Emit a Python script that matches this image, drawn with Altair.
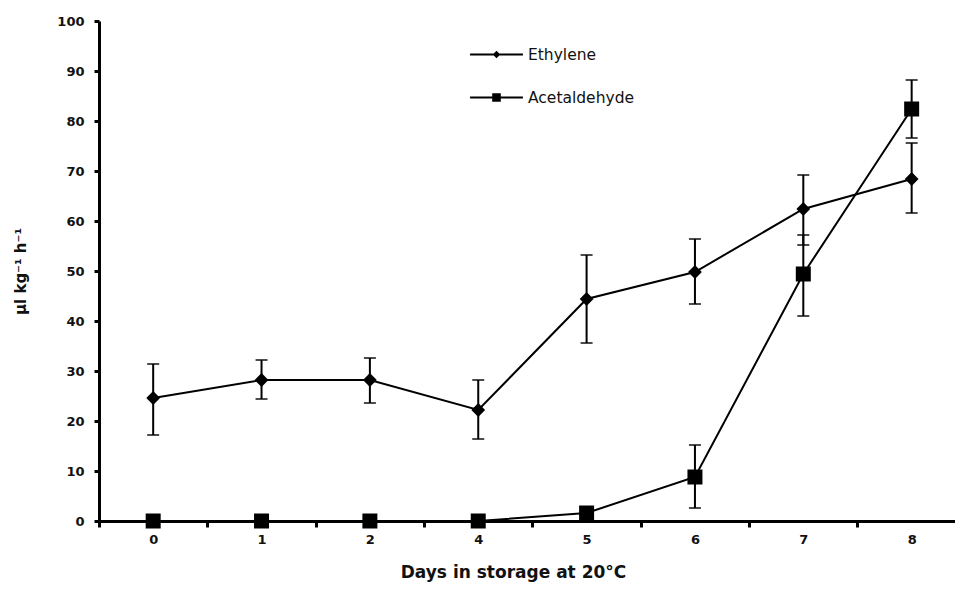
import altair as alt
import pandas as pd

days = ["0", "1", "2", "4", "5", "6", "7", "8"]
series_names = ["Ethylene", "Acetaldehyde"]

ethylene = [24.6, 28.2, 28.2, 22.2, 44.4, 49.8, 62.4, 68.4]
ethylene_hi = [31.4, 32.2, 32.6, 28.2, 53.2, 56.4, 69.2, 75.6]
ethylene_lo = [17.2, 24.4, 23.6, 16.4, 35.6, 43.4, 55.2, 61.6]

acetaldehyde = [0.0, 0.0, 0.0, 0.0, 1.6, 8.8, 49.4, 82.4]
acetaldehyde_hi = [0.0, 0.0, 0.0, 0.0, 1.6, 15.2, 57.2, 88.2]
acetaldehyde_lo = [0.0, 0.0, 0.0, 0.0, 1.6, 2.6, 41.0, 76.6]

rows = []
for i, d in enumerate(days):
    rows.append({"idx": i, "day": d, "series": "Ethylene", "v": ethylene[i],
                 "hi": ethylene_hi[i], "lo": ethylene_lo[i]})
for i, d in enumerate(days):
    rows.append({"idx": i, "day": d, "series": "Acetaldehyde", "v": acetaldehyde[i],
                 "hi": acetaldehyde_hi[i], "lo": acetaldehyde_lo[i]})
df = pd.DataFrame(rows)

label_array = "[" + ",".join("'" + d + "'" for d in days) + "]"
x_values = []
for i in range(len(days)):
    x_values.append(i - 0.5)
    x_values.append(float(i))

xscale = alt.Scale(domain=[-0.5, len(days) - 0.6], nice=False, zero=False)
yscale = alt.Scale(domain=[0, 100], nice=False)

xaxis = alt.Axis(
    values=x_values,
    labelExpr="datum.value % 1 === 0 ? " + label_array + "[datum.value] : ''",
    tickOpacity={"condition": {"test": "datum.value % 1 === 0", "value": 0}, "value": 1},
    tickSize=6, tickWidth=3, tickColor="black",
    domainWidth=3, domainColor="black",
    labelFont="DejaVu Sans", labelFontSize=13, labelFontWeight="bold", labelColor="#111",
    labelPadding=6, labelFlush=False, labelOverlap=False, grid=False,
    title="Days in storage at 20°C", titleFont="DejaVu Sans", titleFontSize=17,
    titleFontWeight="bold", titleColor="#111", titlePadding=18, titleX=414,
)
yaxis = alt.Axis(
    values=list(range(0, 101, 10)),
    tickSize=5, tickWidth=3, tickColor="black",
    domainWidth=3, domainColor="black",
    labelFont="DejaVu Sans", labelFontSize=13, labelFontWeight="bold", labelColor="#111",
    labelPadding=10, grid=False,
    title="µl kg⁻¹ h⁻¹", titleFont="DejaVu Sans", titleFontSize=15,
    titleFontWeight="bold", titleColor="#111", titlePadding=28,
)

base = alt.Chart(df)
X = alt.X("idx:Q", scale=xscale, axis=xaxis)
Y = alt.Y("v:Q", scale=yscale, axis=yaxis)

lines = base.mark_line(color="black", strokeWidth=2).encode(
    x=X, y=Y, detail="series:N", order="idx:Q"
)

err = base.transform_filter("datum.hi > datum.lo")
rules = err.mark_rule(color="black", strokeWidth=2).encode(
    x="idx:Q", y="lo:Q", y2="hi:Q"
)
cap_hi = err.mark_tick(color="black", orient="horizontal", size=12, thickness=2).encode(
    x="idx:Q", y="hi:Q"
)
cap_lo = err.mark_tick(color="black", orient="horizontal", size=12, thickness=2).encode(
    x="idx:Q", y="lo:Q"
)

eth_pts = base.transform_filter("datum.series === 'Ethylene'").mark_point(
    shape="diamond", size=190, filled=True, color="black", opacity=1
).encode(x="idx:Q", y="v:Q")
ace_pts = base.transform_filter("datum.series === 'Acetaldehyde'").mark_point(
    shape="square", size=225, filled=True, color="black", opacity=1
).encode(x="idx:Q", y="v:Q")

# legend symbols: line segment with marker
eth_sym = ("M-1.23,-0.047L1.23,-0.047L1.23,0.047L-1.23,0.047Z"
           "M0,-0.175L0.175,0L0,0.175L-0.175,0Z")
ace_sym = ("M-1.23,-0.047L1.23,-0.047L1.23,0.047L-1.23,0.047Z"
           "M-0.2,-0.2L0.2,-0.2L0.2,0.2L-0.2,0.2Z")

legend_df = pd.DataFrame({"series": series_names, "idx": [0, 0], "v": [-50, -50]})
legend_layer = alt.Chart(legend_df).mark_point(
    filled=True, color="black", opacity=1, clip=True
).encode(
    x="idx:Q", y="v:Q",
    shape=alt.Shape(
        "series:N",
        scale=alt.Scale(domain=series_names, range=[eth_sym, ace_sym]),
        legend=alt.Legend(
            title=None, orient="none", legendX=376, legendY=12,
            symbolSize=1849, symbolFillColor="black", symbolStrokeWidth=0,
            symbolOpacity=1, labelOffset=10, rowPadding=13, padding=0,
            labelFont="DejaVu Sans", labelFontSize=15.5, labelColor="#111",
            labelLimit=300,
        ),
    ),
)

chart = alt.layer(lines, rules, cap_hi, cap_lo, eth_pts, ace_pts, legend_layer).properties(
    width=856, height=500,
    autosize=alt.AutoSizeParams(type="none"),
    padding={"left": 91, "top": 13, "right": 0, "bottom": 61},
).configure(
    font="DejaVu Sans", background="white"
).configure_view(stroke="transparent", strokeWidth=0)

chart.save("out.html", embed_options={"renderer": "svg", "actions": False})
